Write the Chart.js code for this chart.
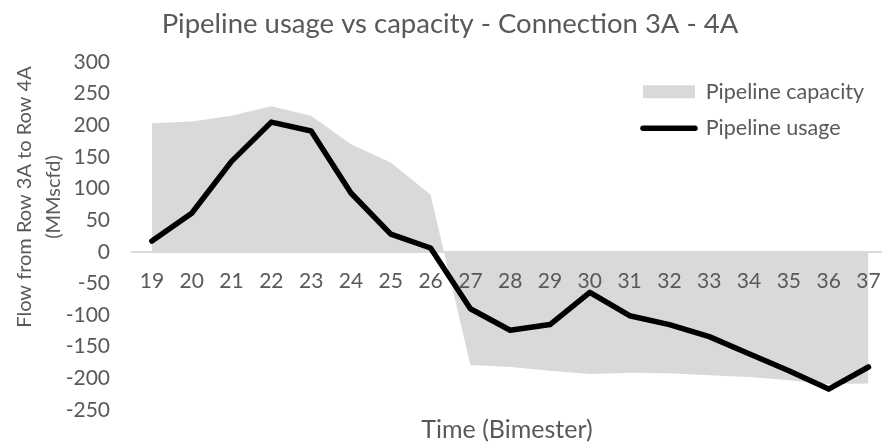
<!DOCTYPE html>
<html>
<head>
<meta charset="utf-8">
<script src="https://cdn.jsdelivr.net/npm/chart.js@4.4.1/dist/chart.umd.min.js"></script>
<style>
  html, body { margin: 0; padding: 0; background: #fff; }
  #wrap { position: relative; width: 882px; height: 446px; }
</style>
</head>
<body>
<div id="wrap"><canvas id="chart"></canvas></div>
<script>
// ── Pipeline usage vs capacity, connection 3A - 4A ───────────────────

const bimesters = [19, 20, 21, 22, 23, 24, 25, 26, 27, 28, 29, 30, 31, 32, 33, 34, 35, 36, 37];
const capacity = [203, 206, 215, 230, 215, 170, 141, 90, -179, -182, -188, -193, -191, -192, -195, -198, -203, -209, -208];
const usage = [17, 61, 143, 205, 191, 93, 28, 6, -90, -124, -115, -64, -101, -115, -134, -161, -188, -217, -182];
const yMin = -250, yMax = 300, yStep = 50;
const xMin = 18.5, xMax = 37.34;

const GREY = "#595959";

Chart.defaults.font.family = "Lato";
Chart.defaults.color = GREY;

// legend sits inside the plot (top right); the y title is centred higher
// than the plot, like Excel does, so its scale box is moved only while
// the title is drawn and put back before the datasets (they clip to it)
const placeBoxes = {
  id: "placeBoxes",
  afterLayout(chart) {
    const lg = chart.legend;
    lg.left = 628;
    lg.top = 66;
    lg.right = lg.left + lg.width;
    lg.bottom = lg.top + lg.height;
    const y = chart.scales.y;
    y.top = 22;
    y.bottom = 372;
  },
  beforeDatasetsDraw(chart) {
    const y = chart.scales.y;
    y.top = chart.chartArea.top;
    y.bottom = chart.chartArea.bottom;
  },
};

new Chart(document.getElementById("chart"), {
  type: "line",
  data: {
    labels: bimesters,
    datasets: [
      {
        label: "Pipeline capacity",
        data: capacity,
        order: 1,
        borderWidth: 0,
        borderColor: "rgba(0,0,0,0)",
        backgroundColor: "#d9d9d9",
        fill: "origin",
        pointRadius: 0,
        pointStyle: "rect",
        tension: 0,
      },
      {
        label: "Pipeline usage",
        data: usage,
        order: 0,
        borderColor: "#000000",
        backgroundColor: "#000000",
        borderWidth: 5.5,
        borderCapStyle: "round",
        borderJoinStyle: "round",
        pointRadius: 0,
        pointStyle: "line",
        fill: false,
        tension: 0,
      },
    ],
  },
  options: {
    responsive: true,
    maintainAspectRatio: false,
    animation: false,
    layout: { padding: { left: 18, right: 0, top: 0, bottom: 0 } },
    plugins: {
      tooltip: { enabled: false },
      title: {
        display: true,
        text: "Pipeline usage vs capacity - Connection 3A - 4A",
        color: GREY,
        font: { size: 27.5, weight: "normal" },
        padding: { top: 8, bottom: 21 },
      },
      legend: {
        display: true,
        position: "chartArea",
        align: "start",
        labels: {
          color: GREY,
          font: { size: 21.5 },
          usePointStyle: true,
          pointStyleWidth: 52,
          boxHeight: 13,
          padding: 15,
          generateLabels: chart =>
            chart.data.datasets.map((ds, i) => ({
              text: ds.label,
              datasetIndex: i,
              fontColor: GREY,
              pointStyle: ds.pointStyle,
              fillStyle: ds.backgroundColor,
              strokeStyle: ds.borderColor,
              lineWidth: ds.borderWidth,
              lineCap: "round",
            })),
        },
      },
    },
    scales: {
      x: {
        type: "linear",
        min: xMin,
        max: xMax,
        position: { y: 0 },
        afterBuildTicks: s => { s.ticks = bimesters.map(v => ({ value: v })); },
        afterFit: s => { s.paddingLeft = 0; s.paddingRight = 0; },
        ticks: { z: 1, font: { size: 21 }, color: GREY, padding: 17, maxRotation: 0, autoSkip: false },
        grid: { display: false, drawTicks: false },
        border: { display: true, color: "#d9d9d9", width: 2 },
      },
      x2: {
        type: "linear",
        axis: "x",
        position: "bottom",
        ticks: { display: false },
        grid: { display: false, drawTicks: false },
        border: { display: false },
        title: {
          display: true,
          text: "Time (Bimester)",
          color: GREY,
          font: { size: 25 },
          padding: { top: 5, bottom: 1 },
        },
      },
      y: {
        min: yMin,
        max: yMax,
        afterFit: s => { s.width = 114; },
        ticks: { stepSize: yStep, font: { size: 21 }, color: GREY, padding: 22 },
        grid: { display: false, drawTicks: false },
        border: { display: false },
        title: {
          display: true,
          text: ["Flow from Row 3A to Row 4A", "(MMscfd)"],
          color: GREY,
          font: { size: 20, lineHeight: 1.45 },
          padding: { top: -8, bottom: 2 },
        },
      },
    },
  },
  plugins: [placeBoxes],
});
</script>
</body>
</html>
